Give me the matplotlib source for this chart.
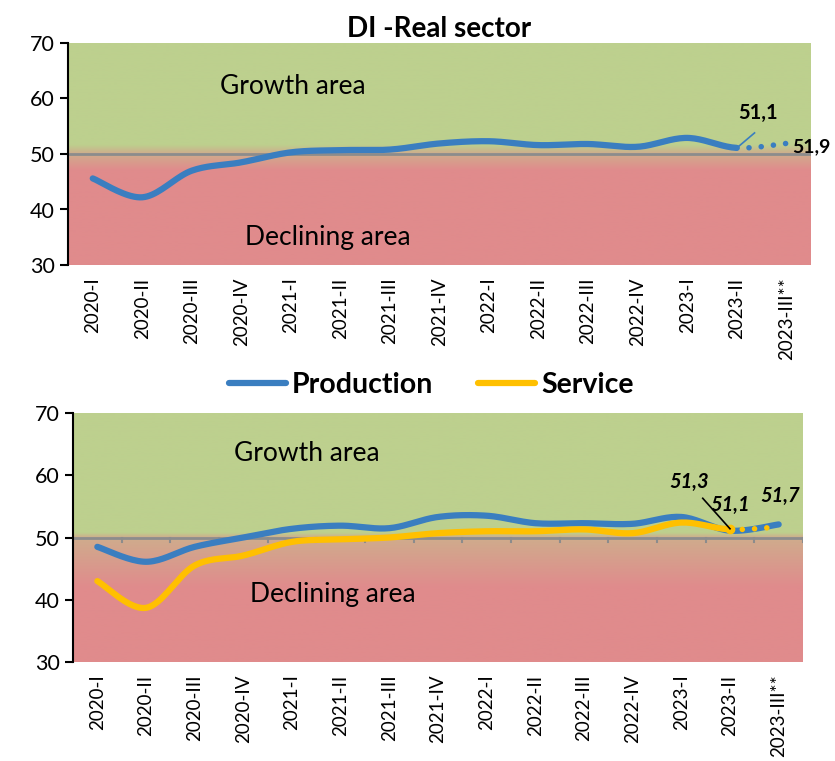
import numpy as np
import matplotlib.pyplot as plt

plt.rcParams['font.family'] = ['Lato', 'DejaVu Sans']

quarters = ['2020-I', '2020-II', '2020-III', '2020-IV', '2021-I', '2021-II', '2021-III',
            '2021-IV', '2022-I', '2022-II', '2022-III', '2022-IV', '2023-I', '2023-II',
            '2023-III**']
real_sector = [45.6, 42.2, 47.0, 48.5, 50.3, 50.7, 50.8, 51.9, 52.3, 51.6, 51.8, 51.3,
               52.9, 51.1, 51.9]
production = [48.5, 46.1, 48.5, 50.0, 51.4, 51.9, 51.5, 53.3, 53.5, 52.3, 52.3, 52.2,
              53.3, 51.1, 52.1]
service = [43.0, 38.7, 45.5, 47.1, 49.3, 49.7, 50.0, 50.7, 51.0, 51.0, 51.3, 50.7,
           52.4, 51.3, 51.7]

BLUE = '#3A7EC0'
YELLOW = '#FFC000'
GREEN = np.array([189, 208, 142]) / 255
TAN = np.array([207, 172, 140]) / 255
RED = np.array([224, 139, 140]) / 255


def smooth(y, n=20):
    # catmull-rom like excel "smoothed line"
    y = np.asarray(y, float)
    x = np.arange(len(y), dtype=float)
    px = np.concatenate([[x[0]], x, [x[-1]]])
    py = np.concatenate([[y[0]], y, [y[-1]]])
    xs, ys = [], []
    t = np.linspace(0, 1, n, endpoint=False)
    for i in range(1, len(px) - 2):
        for p, out in ((px, xs), (py, ys)):
            p0, p1, p2, p3 = p[i - 1], p[i], p[i + 1], p[i + 2]
            out.extend(0.5 * (2 * p1 + (-p0 + p2) * t + (2 * p0 - 5 * p1 + 4 * p2 - p3) * t ** 2
                              + (-p0 + 3 * p1 - 3 * p2 + p3) * t ** 3))
    xs.append(x[-1]); ys.append(y[-1])
    return np.array(xs), np.array(ys)


def background(ax, lo, hi):
    yy = np.linspace(30, 70, 400)
    cols = np.zeros((400, 1, 3))
    for c in range(3):
        cols[:, 0, c] = np.interp(yy, [30, lo, 50, hi, 70],
                                  [RED[c], RED[c], TAN[c], GREEN[c], GREEN[c]])
    ax.imshow(cols, extent=[-0.5, 14.5, 30, 70], origin='lower', aspect='auto', zorder=0)


def setup(ax):
    ax.set_xlim(-0.5, 14.5)
    ax.set_ylim(30, 70)
    ax.set_yticks([30, 40, 50, 60, 70])
    ax.set_xticks(range(len(quarters)))
    ax.set_xticklabels(quarters, rotation=90, fontsize=13.5)
    ax.tick_params(axis='y', labelsize=15.5, length=6, width=1.5, direction='out')
    ax.tick_params(axis='x', length=0, pad=9)
    for s in ['top', 'right', 'bottom']:
        ax.spines[s].set_visible(False)
    ax.spines['left'].set_linewidth(1.5)
    ax.axhline(50, color='#8C8C8C', lw=2, zorder=1)


def draw(ax, vals, color, dotted_last=True):
    xs, ys = smooth(vals)
    k = 13
    m = xs <= k
    ax.plot(xs[m], ys[m], color=color, lw=4.5, solid_capstyle='round', zorder=3)
    if dotted_last:
        ax.plot(xs[xs >= k], ys[xs >= k], color=color, lw=4, linestyle=(0, (0.01, 2.2)),
                dash_capstyle='round', zorder=3)
    else:
        ax.plot(xs[xs >= k], ys[xs >= k], color=color, lw=4.5, solid_capstyle='round', zorder=3)


fig = plt.figure(figsize=(8.35, 7.61), dpi=100)

# top chart
ax1 = fig.add_axes([68 / 835, 1 - 265 / 761, 743 / 835, 222 / 761])
background(ax1, 47, 51.6)
setup(ax1)
draw(ax1, real_sector, BLUE)
ax1.set_title('DI -Real sector', fontsize=20, fontweight='bold', pad=4)
ax1.text(4.03, 62.1, 'Growth area', fontsize=19, ha='center', va='center')
ax1.text(4.75, 34.9, 'Declining area', fontsize=19, ha='center', va='center')
ax1.plot([13.03, 13.36], [51.3, 53.8], color=BLUE, lw=1.2, zorder=3)
ax1.text(13.42, 57.4, '51,1', fontsize=14.5, fontweight='bold', ha='center', va='center')
ax1.text(14.13, 51.3, '51,9', fontsize=14, fontweight='bold', ha='left', va='center',
         clip_on=False)

# bottom chart
ax2 = fig.add_axes([73 / 835, 1 - 662 / 761, 730 / 835, 249 / 761])
background(ax2, 42, 50.8)
setup(ax2)
for b in np.arange(-0.5, 15, 1):
    ax2.plot([b, b], [50, 49.3], color='#8C8C8C', lw=1.5, zorder=1)
draw(ax2, production, BLUE, dotted_last=False)
draw(ax2, service, YELLOW)
ax2.plot([13], [service[13]], 'o', color=YELLOW, ms=6, zorder=4)
ax2.text(4.3, 63.5, 'Growth area', fontsize=19, ha='center', va='center')
ax2.text(4.84, 40.8, 'Declining area', fontsize=19, ha='center', va='center')
ax2.plot([12.44, 13.0], [56.3, 51.4], color='black', lw=1.2, zorder=5)
ax2.text(12.17, 59.0, '51,3', fontsize=14.5, fontweight='bold', fontstyle='italic',
         ha='center', va='center')
ax2.text(13.0, 55.2, '51,1', fontsize=14.5, fontweight='bold', fontstyle='italic',
         ha='center', va='center')
ax2.text(14.04, 56.6, '51,7', fontsize=14.5, fontweight='bold', fontstyle='italic',
         ha='center', va='center')

handles = [plt.Line2D([], [], color=BLUE, lw=4.5, solid_capstyle='round'),
           plt.Line2D([], [], color=YELLOW, lw=4.5, solid_capstyle='round')]
fig.legend(handles, ['Production', 'Service'], loc='center', bbox_to_anchor=(431 / 835, 1 - 385 / 761),
           ncol=2, frameon=False, prop={'size': 20.5, 'weight': 'bold'}, handlelength=2.0,
           handletextpad=0.2, columnspacing=1.6)

fig.savefig('out.png', dpi=100)
